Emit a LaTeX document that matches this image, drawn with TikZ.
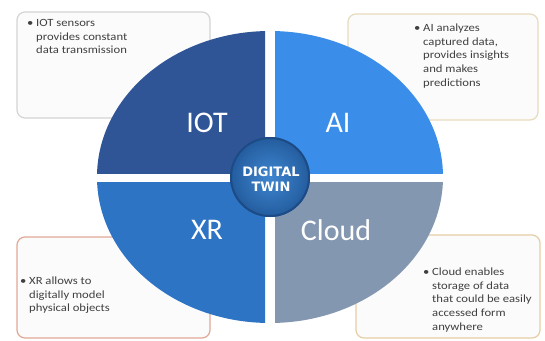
\documentclass[tikz,border=0pt]{standalone}
\usepackage{fontspec}
\setmainfont{Carlito}
\newfontfamily\boxfont[FakeStretch=1.15]{Carlito}
\newfontfamily\twinfont{DejaVu Sans}
\usepackage{xcolor}
\usetikzlibrary{positioning,calc,shadings}
\definecolor{iotblue}{HTML}{2F5597}
\definecolor{aiblue}{HTML}{3A8EEA}
\definecolor{xrblue}{HTML}{2E74C5}
\definecolor{cloudgray}{HTML}{8497B0}
\definecolor{twinin}{HTML}{3F86D0}
\definecolor{twinout}{HTML}{235C9E}
\definecolor{twinring}{HTML}{1C4B85}
\definecolor{boxfill}{HTML}{FBFBFB}
\definecolor{boxtext}{HTML}{404040}
\definecolor{tlline}{HTML}{D4D4D4}
\definecolor{trline}{HTML}{E8DBBC}
\definecolor{blline}{HTML}{E2A797}
\definecolor{brline}{HTML}{E6CDA6}
\tikzset{
  infobox/.style={fill=boxfill, rounded corners=8pt, line width=1.2pt},
  infotext/.style={anchor=north west, inner sep=0pt, text=boxtext,
    font=\boxfont\fontsize{11}{13.6}\selectfont},
  techlabel/.style={text=white, font=\fontsize{30}{32}\selectfont}
}
\newcommand{\bulletline}[1]{\makebox[9pt][l]{\textbullet}\begin{tabular}[t]{@{}l@{}}#1\end{tabular}}
\begin{document}
\begin{tikzpicture}[x=1pt,y=-1pt]
\useasboundingbox (0,0) rectangle (545,340);
\fill[white] (0,0) rectangle (545,340);

\draw[infobox, draw=tlline] (17,12) rectangle (210,118);
\draw[infobox, draw=trline] (348,14) rectangle (538,120);
\draw[infobox, draw=blline] (17,237) rectangle (210,338);
\draw[infobox, draw=brline] (356,235) rectangle (540,338);

\node[infotext] (iottext) at (27,17) {\bulletline{IOT sensors\\provides constant\\data transmission}};
\node[infotext] (aitext) at (414,22) {\bulletline{AI analyzes\\captured data,\\provides insights\\and makes\\predictions}};
\node[infotext] (xrtext) at (20,275) {\bulletline{XR allows to\\digitally model\\physical objects}};
\node[infotext] (cloudtext) at (423,266) {\bulletline{Cloud enables\\storage of data\\that could be easily\\accessed form\\anywhere}};

\begin{scope}
\clip (0,0) rectangle (265,173);
\fill[iotblue] (270,177) ellipse [x radius=173, y radius=146];
\end{scope}
\begin{scope}
\clip (275,0) rectangle (545,173);
\fill[aiblue] (270,177) ellipse [x radius=173, y radius=146];
\end{scope}
\begin{scope}
\clip (0,182) rectangle (265,340);
\fill[xrblue] (270,177) ellipse [x radius=173, y radius=146];
\end{scope}
\begin{scope}
\clip (275,182) rectangle (545,340);
\fill[cloudgray] (270,177) ellipse [x radius=173, y radius=146];
\end{scope}

\node[techlabel] (iot) at (207,123) {IOT};
\node[techlabel] (ai) at (338,123) {AI};
\node[techlabel] (xr) at (207,230) {XR};
\node[techlabel] (cloud) at (336,230) {Cloud};

\shade[inner color=twinin, outer color=twinout] (270,177) circle (40);
\draw[twinring, line width=2pt] (270,177) circle (39);
\node[text=white, align=center, inner sep=0pt,
  font=\twinfont\bfseries\fontsize{13}{15}\selectfont] (twin) at (271,179) {DIGITAL\\TWIN};
\end{tikzpicture}
\end{document}
